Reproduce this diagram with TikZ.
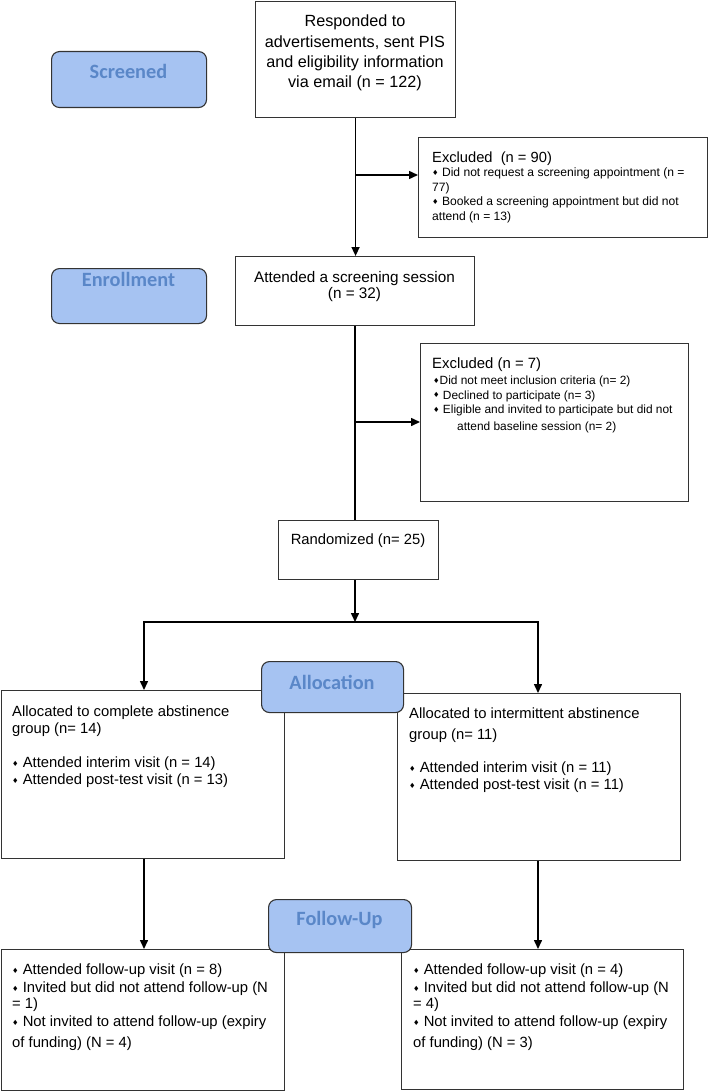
\documentclass[tikz,border=0pt]{standalone}
\usepackage{fontspec}
\setmainfont{Liberation Sans}
\newfontfamily\labfont{Carlito}
\newfontfamily\djv{DejaVu Sans}
\usetikzlibrary{arrows.meta}
\definecolor{labfill}{HTML}{A6C3F2}
\definecolor{labtext}{HTML}{5A87C8}
\definecolor{boxline}{HTML}{333333}
\newcommand{\dm}{{\djv\fontsize{7.2}{7.2}\selectfont\raisebox{1.1pt}{♦}}}
\begin{document}
\begin{tikzpicture}[x=1pt,y=-1pt,
  box/.style={draw=boxline, line width=1.1pt, inner sep=0pt, rectangle, anchor=north west},
  lab/.style={draw=boxline, fill=labfill, rounded corners=8pt, line width=1.1pt, inner sep=0pt, anchor=north west},
  labtxt/.style={font=\labfont\bfseries\fontsize{20.3}{21}\selectfont, text=labtext, inner sep=0pt},
  txt/.style={inner sep=0pt, align=left, anchor=north west},
  arr/.style={line width=1.5pt, -{Triangle[length=9pt,width=8pt]}},
  ln/.style={line width=1.5pt}]
\useasboundingbox (0,0) rectangle (709,1091);

% boxes
\node[box, minimum width=200pt, minimum height=116pt] (top) at (255,1) {};
\node[box, minimum width=289pt, minimum height=100pt] (ex1) at (418,137) {};
\node[box, minimum width=239pt, minimum height=69pt] (att) at (235,256) {};
\node[box, minimum width=268pt, minimum height=158pt] (ex2) at (420,343) {};
\node[box, minimum width=160pt, minimum height=59pt] (rand) at (278,520) {};
\node[box, minimum width=283pt, minimum height=168pt] (lbox) at (1,690) {};
\node[box, minimum width=283pt, minimum height=167pt] (rbox) at (397,693) {};
\node[box, minimum width=283pt, minimum height=141pt] (blbox) at (1,949) {};
\node[box, minimum width=282pt, minimum height=140pt] (brbox) at (401,949) {};

% stage labels
\node[lab, minimum width=155pt, minimum height=56pt] (scr) at (51,51) {};
\node[lab, minimum width=155pt, minimum height=55pt] (enr) at (51,268) {};
\node[labtxt] (scrT) at (128.5,71) {Screened};
\node[labtxt] (enrT) at (128.5,279) {Enrollment};

% texts
\node[inner sep=0pt, align=center, font=\fontsize{16.2}{20.3}\selectfont] (topT) at (355,53)
  {Responded to\\advertisements, sent PIS\\and eligibility information\\via email (n = 122)};
\node[txt, font=\fontsize{14.7}{17}\selectfont] (ex1T) at (432,151.6) {Excluded\ \ (n = 90)};
\node[txt, font=\fontsize{12.1}{14.7}\selectfont] (ex1B) at (432,167.6)
  {\dm\ Did not request a screening appointment (n =\\77)\\\dm\ Booked a screening appointment but did not\\attend (n = 13)};
\node[inner sep=0pt, align=center, font=\fontsize{15.3}{16.5}\selectfont] (attT) at (354.5,286.5)
  {Attended a screening session\\(n = 32)};
\node[txt, font=\fontsize{14.9}{17}\selectfont] (ex2T) at (432,357.6) {Excluded (n = 7)};
\node[txt, font=\fontsize{11.9}{14.5}\selectfont] (ex2B) at (433,375.7)
  {\dm Did not meet inclusion criteria (n= 2)\\\dm\ Declined to participate (n= 3)\\\dm\ Eligible and invited to participate but did not\\[2.5pt]\hspace*{24pt}attend baseline session (n= 2)};
\node[inner sep=0pt, font=\fontsize{14.8}{17}\selectfont] (randT) at (358,541) {Randomized (n= 25)};
\node[txt, font=\fontsize{14.8}{17}\selectfont] (lboxT) at (12,705.6)
  {Allocated to complete abstinence\\group (n= 14)\\[17pt]\dm\ Attended interim visit (n = 14)\\\dm\ Attended post-test visit (n = 13)};
\node[txt, font=\fontsize{14.8}{17}\selectfont] (rboxT) at (409,707.6)
  {Allocated to intermittent abstinence\\[4pt]group (n= 11)\\[16pt]\dm\ Attended interim visit (n = 11)\\\dm\ Attended post-test visit (n = 11)};
\node[txt, font=\fontsize{14.8}{17}\selectfont] (blT) at (12,963.6)
  {\dm\ Attended follow-up visit (n = 8)\\[1pt]\dm\ Invited but did not attend follow-up (N\\[-1pt]= 1)\\[1pt]\dm\ Not invited to attend follow-up (expiry\\[4pt]of funding) (N = 4)};
\node[txt, font=\fontsize{14.8}{17}\selectfont] (brT) at (413,963.6)
  {\dm\ Attended follow-up visit (n = 4)\\[1pt]\dm\ Invited but did not attend follow-up (N\\[-1pt]= 4)\\[1pt]\dm\ Not invited to attend follow-up (expiry\\[4pt]of funding) (N = 3)};

% connectors
\coordinate (j1) at (355,175);
\coordinate (j2) at (354.5,422);
\coordinate (split) at (355,622);
\coordinate (jl) at (144,622);
\coordinate (jr) at (538,622);
\draw[arr] (top.south) -- (top.south |- att.north);
\draw[arr] (j1) -- (j1 -| ex1.west);
\draw[ln] (att.south) -- (att.south |- rand.north);
\draw[arr] (j2) -- (j2 -| ex2.west);
\draw[arr] (split |- rand.south) -- (split);
\draw[line width=1.5pt, {Triangle[length=9pt,width=8pt]}-{Triangle[length=9pt,width=8pt]}]
  (jl |- lbox.north) -- (jl) -- (jr) -- (jr |- rbox.north);
\draw[arr] (jl |- lbox.south) -- (jl |- blbox.north);
\draw[arr] (jr |- rbox.south) -- (jr |- brbox.north);

% stage labels drawn over the box edges
\node[lab, minimum width=142pt, minimum height=51pt] (alloc) at (261,661) {};
\node[lab, minimum width=143pt, minimum height=53pt] (fu) at (268,899) {};
\node[labtxt] (allocT) at (332,682) {Allocation};
\node[labtxt] (fuT) at (339.5,920) {Follow-Up};
\end{tikzpicture}
\end{document}
